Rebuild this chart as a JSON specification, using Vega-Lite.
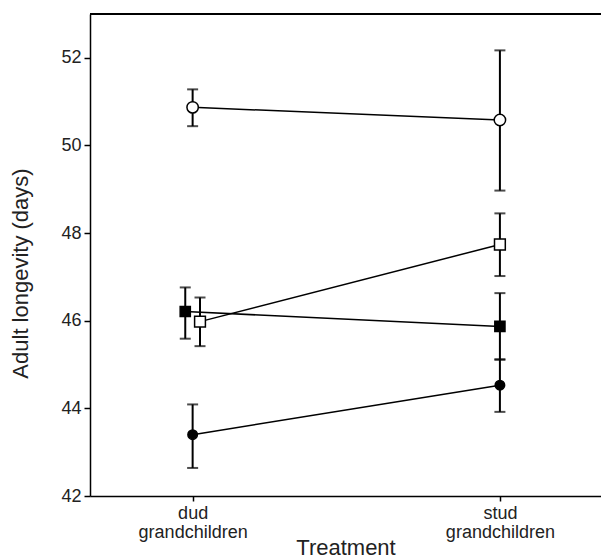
{
  "$schema": "https://vega.github.io/schema/vega-lite/v6.json",
  "width": 511,
  "height": 482,
  "autosize": "none",
  "padding": {"left": 90, "top": 14, "right": 0, "bottom": 62},
  "config": {
    "view": {"stroke": null},
    "font": "Liberation Sans",
    "axis": {
      "domainColor": "black", "tickColor": "black", "labelColor": "#222222", "titleColor": "#222222",
      "grid": false, "labelFontSize": 18, "titleFontSize": 22, "titleFontWeight": "normal",
      "domainWidth": 1.5, "tickWidth": 1.5
    }
  },
  "data": {"values": [
    {"treatment": "dud", "group": "open circle", "mean": 50.87, "lo": 50.44, "hi": 51.28},
    {"treatment": "stud", "group": "open circle", "mean": 50.58, "lo": 48.97, "hi": 52.17},
    {"treatment": "dud", "group": "open square", "mean": 45.98, "lo": 45.42, "hi": 46.53},
    {"treatment": "stud", "group": "open square", "mean": 47.74, "lo": 47.02, "hi": 48.45},
    {"treatment": "dud", "group": "filled square", "mean": 46.21, "lo": 45.59, "hi": 46.76},
    {"treatment": "stud", "group": "filled square", "mean": 45.87, "lo": 45.11, "hi": 46.63},
    {"treatment": "dud", "group": "filled circle", "mean": 43.40, "lo": 42.64, "hi": 44.09},
    {"treatment": "stud", "group": "filled circle", "mean": 44.53, "lo": 43.92, "hi": 45.12}
  ]},
  "transform": [
    {"calculate": "(datum.treatment == 'stud' ? 1 : 0) + (datum.treatment == 'dud' && datum.group == 'filled square' ? -0.024 : 0) + (datum.treatment == 'dud' && datum.group == 'open square' ? 0.024 : 0)", "as": "xpos"}
  ],
  "layer": [
    {
      "mark": {"type": "rule", "color": "black", "strokeWidth": 1.5},
      "encoding": {"y": {"datum": 53, "type": "quantitative"}}
    },
    {
      "mark": {"type": "line", "color": "black", "strokeWidth": 1.5},
      "encoding": {
        "x": {"field": "xpos", "type": "quantitative",
          "scale": {"domain": [-0.334, 1.329], "nice": false, "zero": false},
          "axis": {"values": [0, 1], "labelExpr": "datum.value < 0.5 ? ['dud', 'grandchildren'] : ['stud', 'grandchildren']",
            "title": "Treatment", "tickSize": 5, "labelPadding": 3, "labelLineHeight": 19,
            "titleY": 58, "titleBaseline": "alphabetic"}},
        "y": {"field": "mean", "type": "quantitative",
          "scale": {"domain": [42, 53], "nice": false, "zero": false},
          "axis": {"values": [42, 44, 46, 48, 50, 52], "title": "Adult longevity (days)", "tickSize": 6, "labelPadding": 3,
            "titleX": -70, "titleY": 259, "titleBaseline": "middle"}},
        "detail": {"field": "group"}
      }
    },
    {
      "mark": {"type": "rule", "color": "black", "strokeWidth": 2},
      "encoding": {
        "x": {"field": "xpos", "type": "quantitative"},
        "y": {"field": "lo", "type": "quantitative"},
        "y2": {"field": "hi"}
      }
    },
    {
      "mark": {"type": "tick", "orient": "horizontal", "color": "black", "size": 11, "thickness": 2},
      "encoding": {
        "x": {"field": "xpos", "type": "quantitative"},
        "y": {"field": "lo", "type": "quantitative"}
      }
    },
    {
      "mark": {"type": "tick", "orient": "horizontal", "color": "black", "size": 11, "thickness": 2},
      "encoding": {
        "x": {"field": "xpos", "type": "quantitative"},
        "y": {"field": "hi", "type": "quantitative"}
      }
    },
    {
      "mark": {"type": "point", "filled": true, "stroke": "black", "strokeWidth": 1.5, "opacity": 1},
      "encoding": {
        "x": {"field": "xpos", "type": "quantitative"},
        "y": {"field": "mean", "type": "quantitative"},
        "shape": {"field": "group", "type": "nominal", "legend": null,
          "scale": {"domain": ["open circle", "open square", "filled square", "filled circle"], "range": ["circle", "square", "square", "circle"]}},
        "fill": {"field": "group", "type": "nominal", "legend": null,
          "scale": {"domain": ["open circle", "open square", "filled square", "filled circle"], "range": ["white", "white", "black", "black"]}},
        "size": {"field": "group", "type": "nominal", "legend": null,
          "scale": {"domain": ["open circle", "open square", "filled square", "filled circle"], "range": [130, 90, 100, 150]}}
      }
    }
  ]
}
